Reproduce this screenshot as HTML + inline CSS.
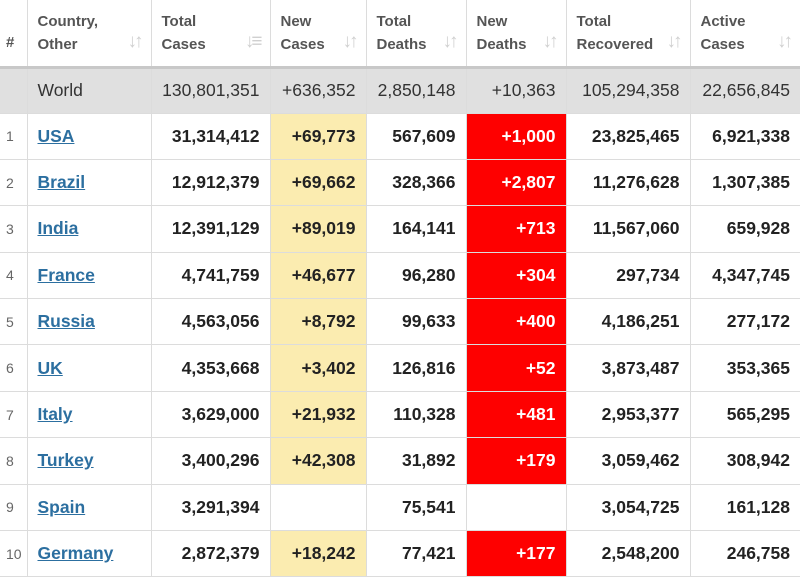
<!DOCTYPE html>
<html><head><meta charset="utf-8"><style>
*{margin:0;padding:0;box-sizing:border-box}
body{width:800px;height:576px;overflow:hidden;background:#fff;font-family:"Liberation Sans",Arial,sans-serif}
table{border-collapse:collapse;table-layout:fixed;width:800px}
td,th{border-left:1px solid #dcdcdc;border-bottom:1px solid #dcdcdc;text-align:right;padding:0 10px;white-space:nowrap}
td:first-child,th:first-child{border-left:none}
th{height:67px;color:#555;font-size:15px;font-weight:bold;text-align:left;vertical-align:middle;line-height:23px;position:relative;border-bottom:3px solid #c8c8c8}
th .s{position:absolute;right:10px;top:30px;color:#d0d0d0;font-size:19px;letter-spacing:-3px;font-weight:bold}
th:first-child{padding:0 0 0 6px;padding-top:20px}
tr.w td{background:#e0e0e0;height:46px;font-size:17.5px;color:#333;font-weight:normal}
tr.r td{height:46.4px;font-size:17.5px;font-weight:bold;color:#222}
td.n{font-weight:normal!important;color:#666!important;font-size:14px!important;text-align:left;padding:0 0 0 6px}
td.c{text-align:left}
td.c a{color:#2c6fa0;text-decoration:underline}
.y{background:#fbecb0}
.d{background:#fe0000;color:#fff!important}
</style></head><body>
<table>
<colgroup><col style="width:27px"><col style="width:124px"><col style="width:119px"><col style="width:96px"><col style="width:100px"><col style="width:100px"><col style="width:124px"><col style="width:110px"></colgroup>
<tr><th>#</th><th>Country,<br>Other<span class="s">↓↑</span></th><th>Total<br>Cases<span class="s">↓≡</span></th><th>New<br>Cases<span class="s">↓↑</span></th><th>Total<br>Deaths<span class="s">↓↑</span></th><th>New<br>Deaths<span class="s">↓↑</span></th><th>Total<br>Recovered<span class="s">↓↑</span></th><th>Active<br>Cases<span class="s">↓↑</span></th></tr>
<tr class="w"><td></td><td style="text-align:left">World</td><td>130,801,351</td><td>+636,352</td><td>2,850,148</td><td>+10,363</td><td>105,294,358</td><td>22,656,845</td></tr>
<tr class="r"><td class="n">1</td><td class="c"><a>USA</a></td><td>31,314,412</td><td class="y">+69,773</td><td>567,609</td><td class="d">+1,000</td><td>23,825,465</td><td>6,921,338</td></tr>
<tr class="r"><td class="n">2</td><td class="c"><a>Brazil</a></td><td>12,912,379</td><td class="y">+69,662</td><td>328,366</td><td class="d">+2,807</td><td>11,276,628</td><td>1,307,385</td></tr>
<tr class="r"><td class="n">3</td><td class="c"><a>India</a></td><td>12,391,129</td><td class="y">+89,019</td><td>164,141</td><td class="d">+713</td><td>11,567,060</td><td>659,928</td></tr>
<tr class="r"><td class="n">4</td><td class="c"><a>France</a></td><td>4,741,759</td><td class="y">+46,677</td><td>96,280</td><td class="d">+304</td><td>297,734</td><td>4,347,745</td></tr>
<tr class="r"><td class="n">5</td><td class="c"><a>Russia</a></td><td>4,563,056</td><td class="y">+8,792</td><td>99,633</td><td class="d">+400</td><td>4,186,251</td><td>277,172</td></tr>
<tr class="r"><td class="n">6</td><td class="c"><a>UK</a></td><td>4,353,668</td><td class="y">+3,402</td><td>126,816</td><td class="d">+52</td><td>3,873,487</td><td>353,365</td></tr>
<tr class="r"><td class="n">7</td><td class="c"><a>Italy</a></td><td>3,629,000</td><td class="y">+21,932</td><td>110,328</td><td class="d">+481</td><td>2,953,377</td><td>565,295</td></tr>
<tr class="r"><td class="n">8</td><td class="c"><a>Turkey</a></td><td>3,400,296</td><td class="y">+42,308</td><td>31,892</td><td class="d">+179</td><td>3,059,462</td><td>308,942</td></tr>
<tr class="r"><td class="n">9</td><td class="c"><a>Spain</a></td><td>3,291,394</td><td></td><td>75,541</td><td></td><td>3,054,725</td><td>161,128</td></tr>
<tr class="r"><td class="n">10</td><td class="c"><a>Germany</a></td><td>2,872,379</td><td class="y">+18,242</td><td>77,421</td><td class="d">+177</td><td>2,548,200</td><td>246,758</td></tr>
</table>
</body></html>
